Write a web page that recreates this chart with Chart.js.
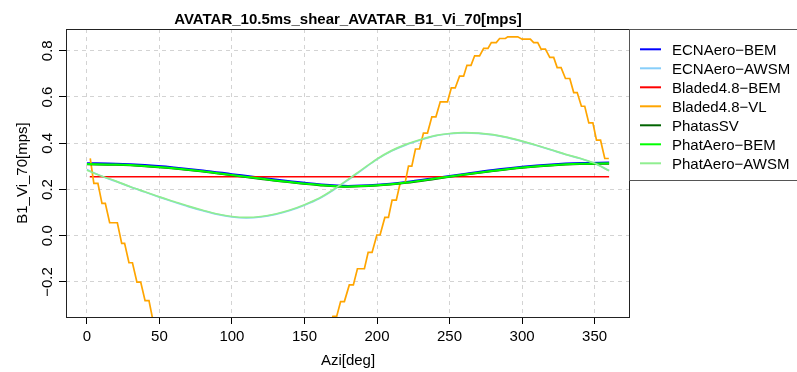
<!DOCTYPE html>
<html>
<head>
<meta charset="utf-8">
<script src="https://cdn.jsdelivr.net/npm/chart.js@4.4.1/dist/chart.umd.min.js"></script>
<style>
  body { margin: 0; background: #fff; }
</style>
</head>
<body>
<canvas id="chart" width="797" height="372"></canvas>
<script>
// ---- data ----
const chartTitle = 'AVATAR_10.5ms_shear_AVATAR_B1_Vi_70[mps]';
const xTitle = 'Azi[deg]';
const yTitle = 'B1_Vi_70[mps]';

const seriesNames = ['ECNAero\u2212BEM', 'ECNAero\u2212AWSM', 'Bladed4.8\u2212BEM', 'Bladed4.8\u2212VL',
                     'PhatasSV', 'PhatAero\u2212BEM', 'PhatAero\u2212AWSM'];
const seriesColors = ['#0000FF', '#87CEFA', '#FF0000', '#FFA500', '#006400', '#00FF00', '#90EE90'];

const bemAzi   = [0, 20, 40, 60, 80, 100, 120, 140, 160, 180, 200, 220, 240, 260, 280, 300, 320, 340, 360];
const ecnBem   = [0.314, 0.312, 0.306, 0.296, 0.283, 0.267, 0.251, 0.236, 0.223, 0.216, 0.221, 0.233, 0.250, 0.268, 0.285, 0.299, 0.309, 0.315, 0.317];
const phatasSv = [0.308, 0.306, 0.300, 0.290, 0.277, 0.261, 0.245, 0.230, 0.218, 0.211, 0.216, 0.228, 0.245, 0.263, 0.279, 0.293, 0.303, 0.309, 0.311];
const phatBem  = [0.310, 0.308, 0.302, 0.292, 0.279, 0.263, 0.247, 0.232, 0.220, 0.213, 0.218, 0.230, 0.247, 0.265, 0.281, 0.295, 0.305, 0.311, 0.313];

const awsmAzi  = [0, 10, 20, 30, 40, 50, 60, 70, 80, 90, 100, 110, 120, 130, 140, 150, 160, 170, 180,
                  190, 200, 210, 220, 230, 240, 250, 260, 270, 280, 290, 300, 310, 320, 330, 340, 350, 360];
const ecnAwsm  = [0.286, 0.258, 0.235, 0.211, 0.189, 0.167, 0.146, 0.126, 0.108, 0.092, 0.081, 0.077, 0.081, 0.092, 0.109, 0.132, 0.160, 0.198, 0.241,
                  0.286, 0.330, 0.366, 0.393, 0.414, 0.432, 0.441, 0.445, 0.443, 0.436, 0.424, 0.408, 0.390, 0.371, 0.351, 0.334, 0.312, 0.282];
const phatAwsm = [0.283, 0.258, 0.236, 0.212, 0.190, 0.168, 0.148, 0.128, 0.110, 0.094, 0.083, 0.079, 0.083, 0.094, 0.111, 0.134, 0.162, 0.200, 0.243,
                  0.288, 0.332, 0.368, 0.395, 0.416, 0.433, 0.442, 0.446, 0.444, 0.437, 0.425, 0.409, 0.391, 0.372, 0.352, 0.335, 0.313, 0.281];

const bladedBemAzi = [2, 360];
const bladedBem    = [0.255, 0.255];

// Bladed VL is a staircase; vertices (part below the axis is a guess)
const vlAzi = [2.3, 4.8, 7.6, 10.4, 12.7, 15.7, 21.0, 24.0, 26.0, 29.0, 31.4, 34.5, 37.1, 40.1, 42.8, 45.5, 48.5, 52,
               60, 80, 107, 135, 155, 166.5, 169.6, 172.2,
               174.9, 177.5, 180.9, 183.7, 186.5, 191.3, 193.9, 196.6, 199.9, 202.1, 205.4, 207.9, 210.4, 213.3,
               216.0, 219.4, 221.7, 224.0, 226.5, 229.3, 232.0, 234.8, 237.8, 240.6, 243.6, 248.6, 251.2, 253.9,
               256.9, 259.7, 262.0, 264.8, 267.3, 270.7, 273.5, 276.5, 278.8, 282.2, 284.5, 288.5, 290.1, 297.0,
               300.0, 305.7, 308.0, 310.8, 313.1, 316.1, 319.1, 321.8, 324.2, 326.9, 329.9, 332.9, 335.6, 338.0,
               340.9, 343.2, 346.0, 348.8, 351.3, 354.1, 357.0, 359.8];
const vlVal = [0.334, 0.226, 0.226, 0.140, 0.140, 0.056, 0.056, -0.033, -0.033, -0.117, -0.117, -0.201, -0.201, -0.281, -0.281, -0.365, -0.365, -0.45,
               -0.58, -0.72, -0.78, -0.70, -0.55, -0.42, -0.349, -0.349,
               -0.285, -0.285, -0.213, -0.213, -0.143, -0.143, -0.072, -0.072, 0.003, 0.003, 0.079, 0.079, 0.154, 0.154,
               0.229, 0.229, 0.301, 0.301, 0.375, 0.375, 0.444, 0.444, 0.514, 0.514, 0.579, 0.579, 0.639, 0.639,
               0.690, 0.690, 0.737, 0.737, 0.778, 0.778, 0.810, 0.810, 0.835, 0.835, 0.853, 0.853, 0.860, 0.860,
               0.850, 0.850, 0.835, 0.835, 0.807, 0.807, 0.771, 0.771, 0.727, 0.727, 0.680, 0.680, 0.619, 0.619,
               0.560, 0.560, 0.488, 0.488, 0.413, 0.413, 0.334, 0.334];

const xRange = [-14.4, 374.4];
const yRange = [-0.3516, 0.894];
const xStep = 50;
const yStep = 0.2;

// ---- build chart ----
const FONT = '"Liberation Sans", Arial, Helvetica, sans-serif';

function pts(xs, ys) {
  return xs.map((x, i) => ({ x: x, y: ys[i] }));
}

const seriesData = [
  pts(bemAzi, ecnBem),
  pts(awsmAzi, ecnAwsm),
  pts(bladedBemAzi, bladedBem),
  pts(vlAzi, vlVal),
  pts(bemAzi, phatasSv),
  pts(bemAzi, phatBem),
  pts(awsmAzi, phatAwsm)
];

const datasets = seriesData.map((d, i) => ({
  label: seriesNames[i],
  data: d,
  borderColor: seriesColors[i],
  borderWidth: i === 5 ? 2 : 1.7,
  pointRadius: 0,
  fill: false,
  clip: 0,
  tension: i === 3 ? 0 : 0.4,
  cubicInterpolationMode: i === 3 ? 'default' : 'monotone',
  order: seriesData.length - i   // later series on top, like R
}));

const rDecor = {
  id: 'rDecor',
  afterDraw(chart) {
    const ctx = chart.ctx;
    const a = chart.chartArea;
    const ys = chart.scales.y;
    ctx.save();

    // plot box
    ctx.lineWidth = 1;
    ctx.setLineDash([]);
    ctx.strokeStyle = '#222';
    ctx.strokeRect(a.left + 0.5, a.top + 0.5, a.right - a.left - 1, a.bottom - a.top);

    // y tick labels, rotated like R
    ctx.fillStyle = '#000';
    ctx.font = '15px ' + FONT;
    ctx.textAlign = 'center';
    ctx.textBaseline = 'alphabetic';
    ys.ticks.forEach(t => {
      const py = ys.getPixelForValue(t.value);
      ctx.save();
      ctx.translate(52, py);
      ctx.rotate(-Math.PI / 2);
      ctx.fillText(t.value.toFixed(1).replace('-', '\u2212'), 0, 0);
      ctx.restore();
    });

    // titles
    const cx = (a.left + a.right) / 2;
    ctx.font = 'bold 15px ' + FONT;
    ctx.fillText(chartTitle, cx, 24);
    ctx.font = '15px ' + FONT;
    ctx.fillText(xTitle, cx, 365);
    ctx.save();
    ctx.translate(27, (a.top + a.bottom) / 2);
    ctx.rotate(-Math.PI / 2);
    ctx.fillText(yTitle, 0, 0);
    ctx.restore();

    // legend box
    ctx.fillStyle = '#fff';
    ctx.fillRect(a.right, a.top + 1, 300, 150);
    ctx.strokeStyle = '#555';
    ctx.strokeRect(a.right - 0.5, a.top + 0.5, 300, 151);
    ctx.textAlign = 'left';
    chart.data.datasets.forEach((ds, i) => {
      const y = a.top + 20.3 + 19 * i;
      ctx.strokeStyle = ds.borderColor;
      ctx.lineWidth = 2;
      ctx.beginPath();
      ctx.moveTo(a.right + 10, y);
      ctx.lineTo(a.right + 31, y);
      ctx.stroke();
      ctx.fillStyle = '#000';
      ctx.fillText(ds.label, a.right + 42, y + 5.4);
    });
    ctx.restore();
  }
};

new Chart(document.getElementById('chart'), {
  type: 'line',
  data: { datasets: datasets },
  plugins: [rDecor],
  options: {
    responsive: false,
    devicePixelRatio: 1,
    animation: false,
    layout: { padding: { top: 29, right: 167, left: 0, bottom: 0 } },
    plugins: { legend: { display: false }, tooltip: { enabled: false }, title: { display: false } },
    scales: {
      x: {
        type: 'linear',
        min: xRange[0],
        max: xRange[1],
        afterFit(s) { s.height = 55; },
        ticks: {
          stepSize: xStep,
          includeBounds: false,
          color: '#000',
          font: { family: FONT, size: 15 },
          padding: 4,
          maxRotation: 0,
          autoSkip: false
        },
        grid: {
          color: '#D3D3D3',
          lineWidth: 1,
          tickLength: 7,
          tickColor: '#000',
          tickWidth: 1,
          tickBorderDash: []
        },
        border: { display: false, dash: [4, 4] }
      },
      y: {
        type: 'linear',
        min: yRange[0],
        max: yRange[1],
        afterFit(s) { s.width = 66; },
        ticks: {
          stepSize: yStep,
          includeBounds: false,
          display: false
        },
        grid: {
          color: '#D3D3D3',
          lineWidth: 1,
          tickLength: 7,
          tickColor: '#000',
          tickWidth: 1,
          tickBorderDash: []
        },
        border: { display: false, dash: [4, 4] }
      }
    }
  }
});
</script>
</body>
</html>
